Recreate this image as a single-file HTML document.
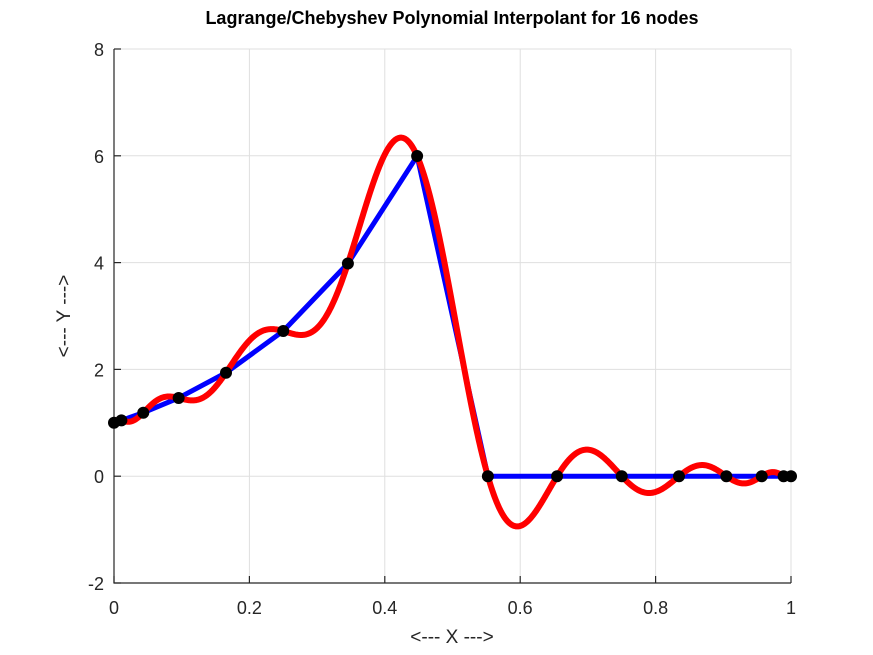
<!DOCTYPE html>
<html><head><meta charset="utf-8"><style>
body{margin:0;background:#fff}
svg{display:block}
text{font-family:"Liberation Sans",sans-serif;fill:#262626}
</style></head><body>
<svg id="s" width="873" height="655" viewBox="0 0 873 655">
<rect width="873" height="655" fill="#fff"/>
<g id="grid" stroke="#dfdfdf" stroke-width="1"></g>
<path d="M114,49 V583 H791" fill="none" stroke="#262626" stroke-width="1.2"/>
<g id="ticks" stroke="#262626" stroke-width="1.2"></g>
<g id="labels" font-size="18"></g>
<path id="blue" fill="none" stroke="#0000ff" stroke-width="5" stroke-linejoin="round"/>
<path id="red" fill="none" stroke="#ff0000" stroke-width="6" stroke-linejoin="round"/>
<g id="marks" fill="#000"></g>
<text x="452" y="24" text-anchor="middle" font-size="18" font-weight="bold" style="fill:#000">Lagrange/Chebyshev Polynomial Interpolant for 16 nodes</text>
<text x="452" y="643" text-anchor="middle" font-size="19">&lt;--- X ---&gt;</text>
<text transform="translate(70,316) rotate(-90)" text-anchor="middle" font-size="19">&lt;--- Y ---&gt;</text>
</svg>
<script>
var X0=114,X1=791,Y8=49,Ym2=583;
function px(x){return X0+(X1-X0)*x}
function py(y){return Ym2-(Ym2-Y8)*(y+2)/10}
var g='',t='',l='';
for(var i=0;i<=5;i++){var x=px(i/5);g+='<line x1="'+x+'" y1="49" x2="'+x+'" y2="583"/>';
t+='<line x1="'+x+'" y1="583" x2="'+x+'" y2="576"/>';
var s=i==0?'0':i==5?'1':(i/5).toString();l+='<text x="'+x+'" y="614" text-anchor="middle">'+s+'</text>';}
for(var v=-2;v<=8;v+=2){var y=py(v);g+='<line x1="114" y1="'+y+'" x2="791" y2="'+y+'"/>';
t+='<line x1="114" y1="'+y+'" x2="121" y2="'+y+'"/>';
l+='<text x="104" y="'+(y+7)+'" text-anchor="end">'+v+'</text>';}
document.getElementById('grid').innerHTML=g;document.getElementById('ticks').innerHTML=t;document.getElementById('labels').innerHTML=l;
var n=15,xs=[],ys=[],w=[];
for(var k=0;k<=n;k++){var x=(1-Math.cos(k*Math.PI/n))/2;xs.push(x);ys.push(x<0.5?Math.exp(4*x):0);w.push((k%2?-1:1)*((k==0||k==n)?0.5:1));}
var b='',m='';
for(var k=0;k<=n;k++){b+=(k?'L':'M')+px(xs[k]).toFixed(2)+','+py(ys[k]).toFixed(2);m+='<circle cx="'+px(xs[k])+'" cy="'+py(ys[k])+'" r="6"/>';}
document.getElementById('blue').setAttribute('d',b);
document.getElementById('marks').innerHTML=m;
var r='';
for(var i=0;i<=1000;i++){var x=i/1000,num=0,den=0,val=null;
for(var k=0;k<=n;k++){var d=x-xs[k];if(Math.abs(d)<1e-12){val=ys[k];break;}num+=w[k]/d*ys[k];den+=w[k]/d;}
if(val===null)val=num/den;r+=(i?'L':'M')+px(x).toFixed(2)+','+py(val).toFixed(2);}
document.getElementById('red').setAttribute('d',r);
</script>
</body></html>
